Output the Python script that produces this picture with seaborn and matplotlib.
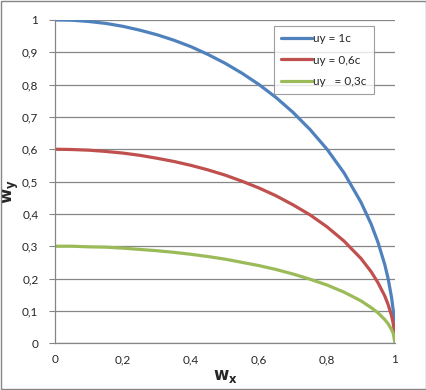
import numpy as np
import pandas as pd
import seaborn as sns
import matplotlib.pyplot as plt
from matplotlib.patches import Rectangle

# values
wx = [0, 0.05, 0.1, 0.15, 0.2, 0.25, 0.3, 0.35, 0.4, 0.45, 0.5, 0.55, 0.6, 0.65,
      0.7, 0.75, 0.8, 0.85, 0.9, 0.93, 0.95, 0.97, 0.98, 0.99, 0.995, 1.0]
wy_1 = [1, 0.999, 0.995, 0.989, 0.98, 0.968, 0.954, 0.937, 0.917, 0.893, 0.866, 0.835,
        0.8, 0.76, 0.714, 0.661, 0.6, 0.527, 0.436, 0.368, 0.312, 0.243, 0.199, 0.141, 0.1, 0.03]
wy_06 = [0.6, 0.599, 0.597, 0.593, 0.588, 0.581, 0.572, 0.562, 0.55, 0.536, 0.52, 0.501,
         0.48, 0.456, 0.428, 0.397, 0.36, 0.316, 0.262, 0.221, 0.187, 0.146, 0.119, 0.085, 0.06, 0.02]
wy_03 = [0.3, 0.3, 0.298, 0.297, 0.294, 0.29, 0.286, 0.281, 0.275, 0.268, 0.26, 0.25,
         0.24, 0.228, 0.214, 0.198, 0.18, 0.158, 0.131, 0.11, 0.094, 0.073, 0.06, 0.042, 0.03, 0.0]
labels = ["uy = 1c", "uy = 0,6c", "uy   = 0,3c"]
yticks = [0, 0.1, 0.2, 0.3, 0.4, 0.5, 0.6, 0.7, 0.8, 0.9, 1]
xticks = [0, 0.2, 0.4, 0.6, 0.8, 1]

df = pd.DataFrame({
    "wx": wx * 3,
    "wy": wy_1 + wy_06 + wy_03,
    "serie": [labels[0]] * len(wx) + [labels[1]] * len(wx) + [labels[2]] * len(wx),
})

sns.set_style("white")
plt.rcParams["font.family"] = ["Lato", "DejaVu Sans"]

fig = plt.figure(figsize=(4.27, 3.9), dpi=100)
ax = fig.add_axes([0.129, 0.12, 0.796, 0.829])

sns.lineplot(data=df, x="wx", y="wy", hue="serie", ax=ax, sort=False,
             palette=["#4F81BD", "#C0504D", "#9BBB59"], linewidth=2.3)

ax.set_xlim(0, 1)
ax.set_ylim(0, 1)
ax.set_yticks(yticks)
ax.set_xticks(xticks)
fmt = lambda v: ("%g" % v).replace(".", ",")
ax.set_yticklabels([fmt(v) for v in yticks], fontsize=8.5)
ax.set_xticklabels([fmt(v) for v in xticks], fontsize=8.5)
ax.tick_params(axis="y", length=4, color="#868686", pad=8, left=True)
ax.tick_params(axis="x", length=0, pad=8)
ax.grid(axis="y", color="#868686", linewidth=0.9)
ax.set_axisbelow(True)
for s in ["top", "right"]:
    ax.spines[s].set_visible(False)
for s in ["left", "bottom"]:
    ax.spines[s].set_color("#868686")
    ax.spines[s].set_linewidth(0.9)

ax.set_xlabel(r"$\mathbf{w_x}$", fontsize=12, labelpad=2)
ax.set_ylabel(r"$\mathbf{w_y}$", fontsize=12)
ax.yaxis.set_label_coords(-0.1, 0.47)

leg = ax.legend(loc="upper right", bbox_to_anchor=(0.955, 1.0), fontsize=8.5,
                frameon=True, fancybox=False, edgecolor="#868686",
                handlelength=2.6, handletextpad=0.1, labelspacing=0.9,
                borderpad=0.6, title=None)
leg.get_frame().set_linewidth(0.8)

fig.patches.append(Rectangle((0.002, 0.002), 0.995, 0.995, transform=fig.transFigure,
                             fill=False, edgecolor="#868686", linewidth=1))

fig.savefig("out.png", dpi=100)
